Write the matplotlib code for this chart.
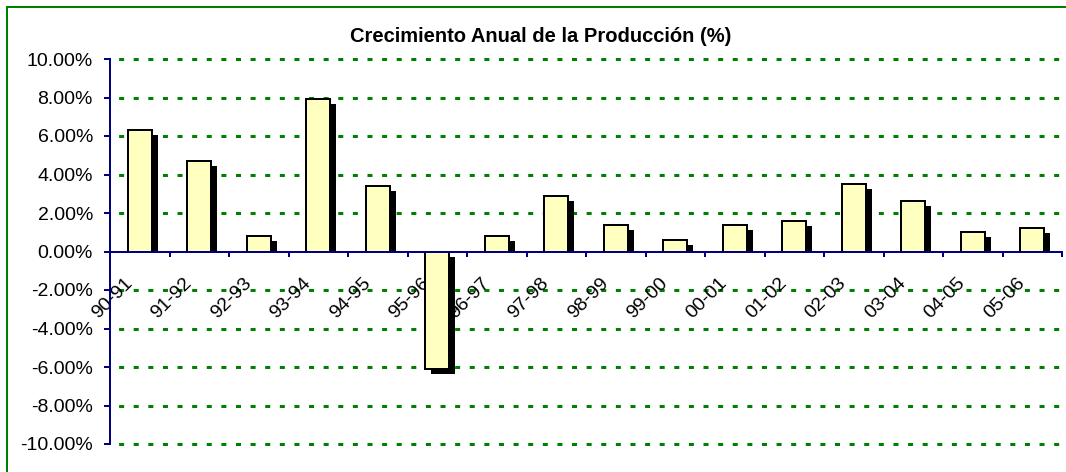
import numpy as np
import matplotlib
matplotlib.use('agg')
import matplotlib.pyplot as plt
from matplotlib.patches import Rectangle
from matplotlib.ticker import FixedLocator, FuncFormatter, NullFormatter
from matplotlib.transforms import offset_copy, ScaledTranslation, Bbox, TransformedBbox

plt.rcParams['font.family'] = ['Liberation Sans', 'DejaVu Sans']
plt.rcParams['axes.unicode_minus'] = False

periodos = ["90-91", "91-92", "92-93", "93-94", "94-95", "95-96", "96-97", "97-98",
            "98-99", "99-00", "00-01", "01-02", "02-03", "03-04", "04-05", "05-06"]
crecimiento = [6.3, 4.7, 0.8, 7.9, 3.4, -6.1, 0.8, 2.9,
               1.4, 0.6, 1.4, 1.6, 3.5, 2.6, 1.0, 1.2]
yticks = [-10, -8, -6, -4, -2, 0, 2, 4, 6, 8, 10]

navy = '#000080'
green = '#008000'
px = 0.72  # points per pixel at dpi 100

fig = plt.figure(figsize=(10.66, 4.72), dpi=100)
ax = fig.add_axes([110 / 1066, 28 / 472, 952 / 1066, 385 / 472])

# green chart border (only top and left are visible in the crop)
fig.patches.append(Rectangle((6.5 / 1066, -0.1), 1.2, 1 - 6.5 / 472 + 0.1,
                             transform=fig.transFigure, fill=False,
                             edgecolor=green, linewidth=2 * px))

x = np.arange(len(periodos)) + 0.5

# shadows
shadow_tr = offset_copy(ax.transData, fig=fig, x=6, y=-5, units='dots')
sh = ax.bar(x, crecimiento, width=0.4, color='black', linewidth=0,
            transform=shadow_tr, zorder=2)
pos_clip = TransformedBbox(Bbox([[-1, 0], [17, 11]]), ax.transData)
for r, v in zip(sh, crecimiento):
    if v > 0:
        r.set_clip_box(pos_clip)

ax.bar(x, crecimiento, width=0.4, color='#FFFFC0', edgecolor='black',
       linewidth=2 * px, zorder=3)

ax.set_xlim(0, len(periodos))
ax.set_ylim(-10, 10)

ax.set_yticks(yticks)
ax.yaxis.set_major_formatter(FuncFormatter(lambda v, p: '%.2f%%' % v))
for y in yticks:
    if y != 0:
        ax.axhline(y, color=green, linewidth=3 * px, clip_on=False,
                   linestyle=(2, (1.67, 3.2)), zorder=1)

ax.xaxis.set_major_locator(FixedLocator(np.arange(len(periodos) + 1)))
ax.xaxis.set_major_formatter(NullFormatter())
ax.xaxis.set_minor_locator(FixedLocator(x))
ax.xaxis.set_minor_formatter(FuncFormatter(lambda v, p: periodos[int(v)]))

ax.spines['top'].set_visible(False)
ax.spines['right'].set_visible(False)
ax.spines['bottom'].set_position(('data', 0))
for s in ['left', 'bottom']:
    ax.spines[s].set_color(navy)
    ax.spines[s].set_linewidth(2 * px)
    ax.spines[s].set_zorder(4)

ax.tick_params(axis='y', direction='out', length=6 * px, width=2 * px,
               color=navy, labelsize=14, pad=11 * px)
ax.tick_params(axis='x', which='major', direction='out', length=5 * px,
               width=2 * px, color=navy)
ax.tick_params(axis='x', which='minor', length=0, labelsize=14, pad=29 * px)

shift = ScaledTranslation(-10 / 100, 0, fig.dpi_scale_trans)
for lab in ax.xaxis.get_minorticklabels():
    lab.set_rotation(45)
    lab.set_ha('right')
    lab.set_va('center')
    lab.set_rotation_mode('anchor')
    lab.set_transform(lab.get_transform() + shift)

fig.text(541 / 1066, 1 - 36 / 472, 'Crecimiento Anual de la Producción (%)',
         ha='center', va='center', fontsize=14.5, fontweight='bold')

fig.savefig('out.png', dpi=100)
